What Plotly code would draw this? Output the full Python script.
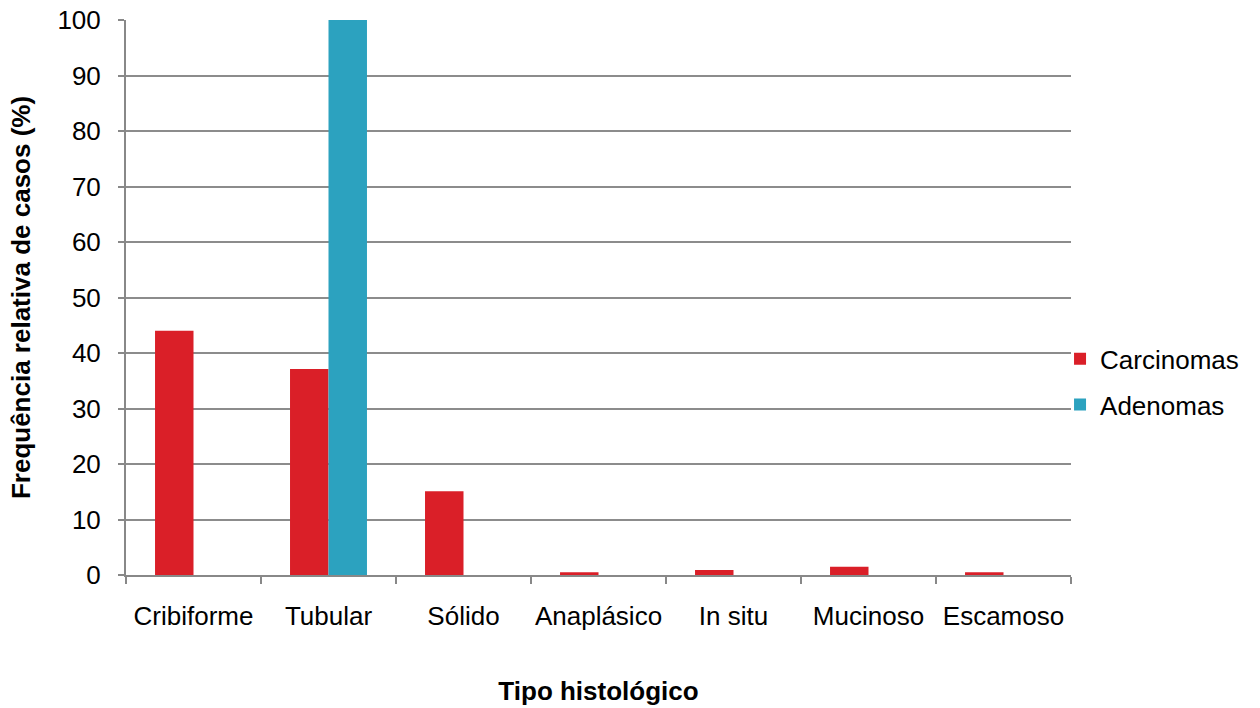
import plotly.graph_objects as go

categorias = ["Cribiforme", "Tubular", "Sólido", "Anaplásico", "In situ", "Mucinoso", "Escamoso"]
carcinomas = [44.0, 37.1, 15.1, 0.5, 0.9, 1.5, 0.5]
adenomas = [0, 100, 0, 0, 0, 0, 0]

fonte = "Liberation Sans, Arial, sans-serif"

fig = go.Figure()
fig.add_trace(go.Bar(name="Carcinomas", x=categorias, y=carcinomas, marker_color="#DA1F28",
                     marker_line_width=0, legendgroup="c"))
fig.add_trace(go.Bar(name="Adenomas", x=categorias, y=adenomas, marker_color="#2CA2BF",
                     marker_line_width=0, legendgroup="a"))

fig.update_layout(
    width=1260, height=708,
    barmode="group", bargap=0.43, bargroupgap=0,
    plot_bgcolor="white", paper_bgcolor="white",
    margin=dict(l=126, r=189, t=20, b=133, autoexpand=False),
    font=dict(family=fonte, size=26, color="#000000"),
    legend=dict(x=0.9884, xanchor="left", y=0.348, yanchor="middle",
                font=dict(size=26), itemwidth=30, tracegroupgap=9,
                bgcolor="rgba(0,0,0,0)"),
    showlegend=True,
)
fig.update_xaxes(
    title=dict(text="<b>Tipo histológico</b>", font=dict(size=26), standoff=52),
    showline=True, linecolor="#888888", linewidth=2,
    ticks="outside", tickson="boundaries", ticklen=7, tickcolor="#888888", tickwidth=2,
    ticklabelstandoff=17, tickangle=0,
    showgrid=False, automargin=False,
)
fig.update_yaxes(
    title=dict(text="<b>Frequência relativa de casos (%)</b>", font=dict(size=26), standoff=19),
    range=[0, 100], dtick=10,
    showline=True, linecolor="#888888", linewidth=2,
    ticks="outside", ticklen=6, tickcolor="#888888", tickwidth=2,
    ticklabelstandoff=12,
    showgrid=True, gridcolor="#8C8C8C", gridwidth=1.5,
    zeroline=False, automargin=False,
)

fig.write_html("out.html")
